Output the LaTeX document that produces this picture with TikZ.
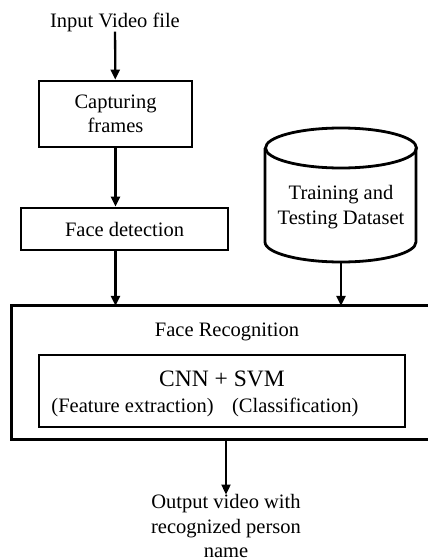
\documentclass[tikz,border=0pt]{standalone}
\usepackage{fontspec}
\setmainfont{Liberation Serif}
\usetikzlibrary{arrows.meta,positioning}
\begin{document}
\begin{tikzpicture}[x=1pt,y=-1pt,
  every node/.style={font=\fontsize{20.5}{24.5}\selectfont, inner sep=0pt},
  stepbox/.style={draw, line width=2.8pt, align=center},
  arr/.style={line width=2.3pt, -{Triangle[length=10pt,width=9pt]}}]
\useasboundingbox (0,0) rectangle (428,560);
\node (in) at (115,22) {Input Video file};
\node[stepbox, minimum width=153pt, minimum height=66pt] (cap) at (115.5,114) {Capturing\\frames};
\node[stepbox, minimum width=207pt, minimum height=42pt] (det) at (124.5,229) {Face detection};
% cylinder
\draw[line width=2.8pt] (265,148) -- (265,242)
  .. controls (265,253) and (299.3,262) .. (341,262)
  .. controls (382.7,262) and (416,253) .. (416,242) -- (416,148);
\draw[line width=2.8pt] (341,148) ellipse (75.5 and 20);
\node[align=center] (db) at (341,207) {Training and\\Testing Dataset};
\coordinate (dbbot) at (341,262);
% face recognition block (right edge beyond the page)
\node[minimum width=420pt, minimum height=133pt] (rec) at (222,372.5) {};
\draw[line width=2.8pt] (rec.north east) -- (rec.north west) -- (rec.south west) -- (rec.south east);
\node (rect) at (227,332) {Face Recognition};
\node[stepbox, minimum width=366pt, minimum height=72pt] (cnn) at (222,391) {};
\node[font=\fontsize{23.5}{28}\selectfont] (cnnt) at (222,379) {CNN + SVM};
\node (fe) at (205,407) {(Feature extraction)\hspace{0.9em}(Classification)};
\node[align=center, anchor=north] (out) at (226,494.5) {Output video with\\recognized person\\name};
\draw[arr] (in) -- (cap);
\draw[arr] (cap) -- (cap |- det.north);
\draw[arr] (det.south -| cap) -- (cap |- rec.north);
\draw[arr] (dbbot) -- (dbbot |- rec.north);
\draw[arr] (rec.south -| out) -- (out);
\end{tikzpicture}
\end{document}
